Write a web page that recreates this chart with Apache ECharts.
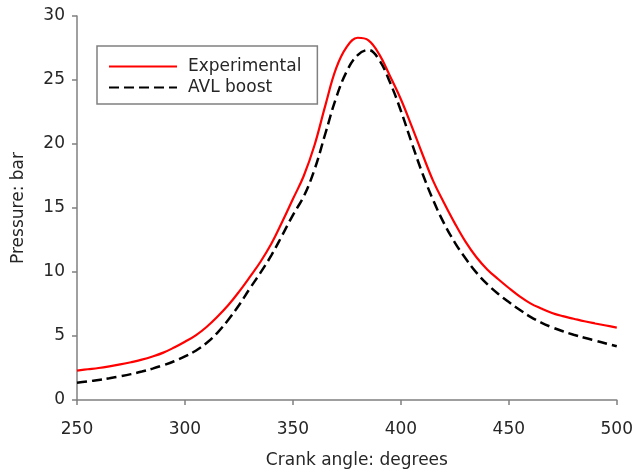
<!DOCTYPE html>
<html>
<head>
<meta charset="utf-8">
<script src="https://cdn.jsdelivr.net/npm/echarts@6/dist/echarts.min.js"></script>
<style>html,body{margin:0;padding:0;background:#fff;}#c{width:636px;height:474px;}</style>
</head>
<body>
<div id="c"></div>
<script>
const angles = [250,255,260,265,270,275,280,285,290,295,300,305,310,315,320,325,330,335,340,345,350,355,360,365,370,375,380,385,390,395,400,405,410,415,420,425,430,435,440,445,450,455,460,465,470,475,480,485,490,495,500];
const expPressure = [2.3,2.4,2.5,2.63,2.78,2.95,3.15,3.4,3.7,4.1,4.55,5.05,5.7,6.5,7.4,8.45,9.6,10.8,12.2,13.9,15.7,17.5,19.9,23.0,25.9,27.6,28.3,28.1,27.0,25.3,23.5,21.4,19.2,17.1,15.4,13.8,12.35,11.15,10.2,9.45,8.75,8.1,7.55,7.15,6.8,6.55,6.35,6.15,5.98,5.82,5.65];
const avlPressure = [1.35,1.45,1.57,1.7,1.85,2.02,2.22,2.45,2.72,3.03,3.4,3.85,4.45,5.25,6.25,7.4,8.7,9.95,11.3,12.85,14.45,15.9,18.0,20.8,23.6,25.7,26.95,27.35,26.55,24.8,22.6,20.1,17.7,15.6,13.8,12.3,11.05,9.95,9.05,8.3,7.65,7.05,6.5,6.05,5.68,5.37,5.1,4.86,4.64,4.42,4.2];
const xTicks = [250,300,350,400,450,500];
const yTicks = [0,5,10,15,20,25,30];

const pair = (xs, ys) => xs.map((x, i) => [x, ys[i]]);
const FONT = 'DejaVu Sans';
const TXT = '#262626';
const chart = echarts.init(document.getElementById('c'), null, {renderer: 'canvas'});
const axisCommon = {
  axisLine: {show: true, lineStyle: {color: '#808080', width: 1.5}},
  axisTick: {show: true, inside: false, length: 5, lineStyle: {color: '#808080', width: 1.5}},
  splitLine: {show: false},
  nameLocation: 'middle'
};
chart.setOption({
  animation: false,
  backgroundColor: '#fff',
  grid: {left: 77, right: 17, top: 16, bottom: 69, containLabel: false},
  legend: {
    orient: 'vertical',
    left: 97, top: 46,
    padding: [12, 16, 8, 11],
    itemGap: 4,
    itemWidth: 68, itemHeight: 14,
    borderColor: '#808080', borderWidth: 1.5,
    itemStyle: {opacity: 0, color: 'rgba(0,0,0,0)', borderWidth: 0},
    textStyle: {color: TXT, fontFamily: FONT, fontSize: 17, padding: [0, 0, 0, 6]},
    data: ['Experimental', 'AVL boost']
  },
  xAxis: Object.assign({}, axisCommon, {
    type: 'value', min: 250, max: 500, interval: 50,
    name: 'Crank angle: degrees', nameGap: 52,
    nameTextStyle: {color: TXT, fontFamily: FONT, fontSize: 17, padding: [0, 0, 0, 20]},
    axisLabel: {color: TXT, fontFamily: FONT, fontSize: 17, margin: 21, formatter: v => xTicks.includes(v) ? String(v) : ''}
  }),
  yAxis: Object.assign({}, axisCommon, {
    type: 'value', min: 0, max: 30, interval: 5,
    name: 'Pressure: bar', nameGap: 50,
    nameTextStyle: {color: TXT, fontFamily: FONT, fontSize: 17},
    axisLabel: {color: TXT, fontFamily: FONT, fontSize: 17, margin: 12, formatter: v => yTicks.includes(v) ? String(v) : ''}
  }),
  series: [
    {
      name: 'Experimental', type: 'line', data: pair(angles, expPressure),
      smooth: 0.4, symbol: 'none', showSymbol: false,
      lineStyle: {color: '#ff0000', width: 2.2},
      itemStyle: {color: '#ff0000'}
    },
    {
      name: 'AVL boost', type: 'line', data: pair(angles, avlPressure),
      smooth: 0.4, symbol: 'none', showSymbol: false,
      lineStyle: {color: '#000000', width: 2.5, type: [10, 5]},
      itemStyle: {color: '#000000'}
    }
  ]
});
</script>
</body>
</html>
